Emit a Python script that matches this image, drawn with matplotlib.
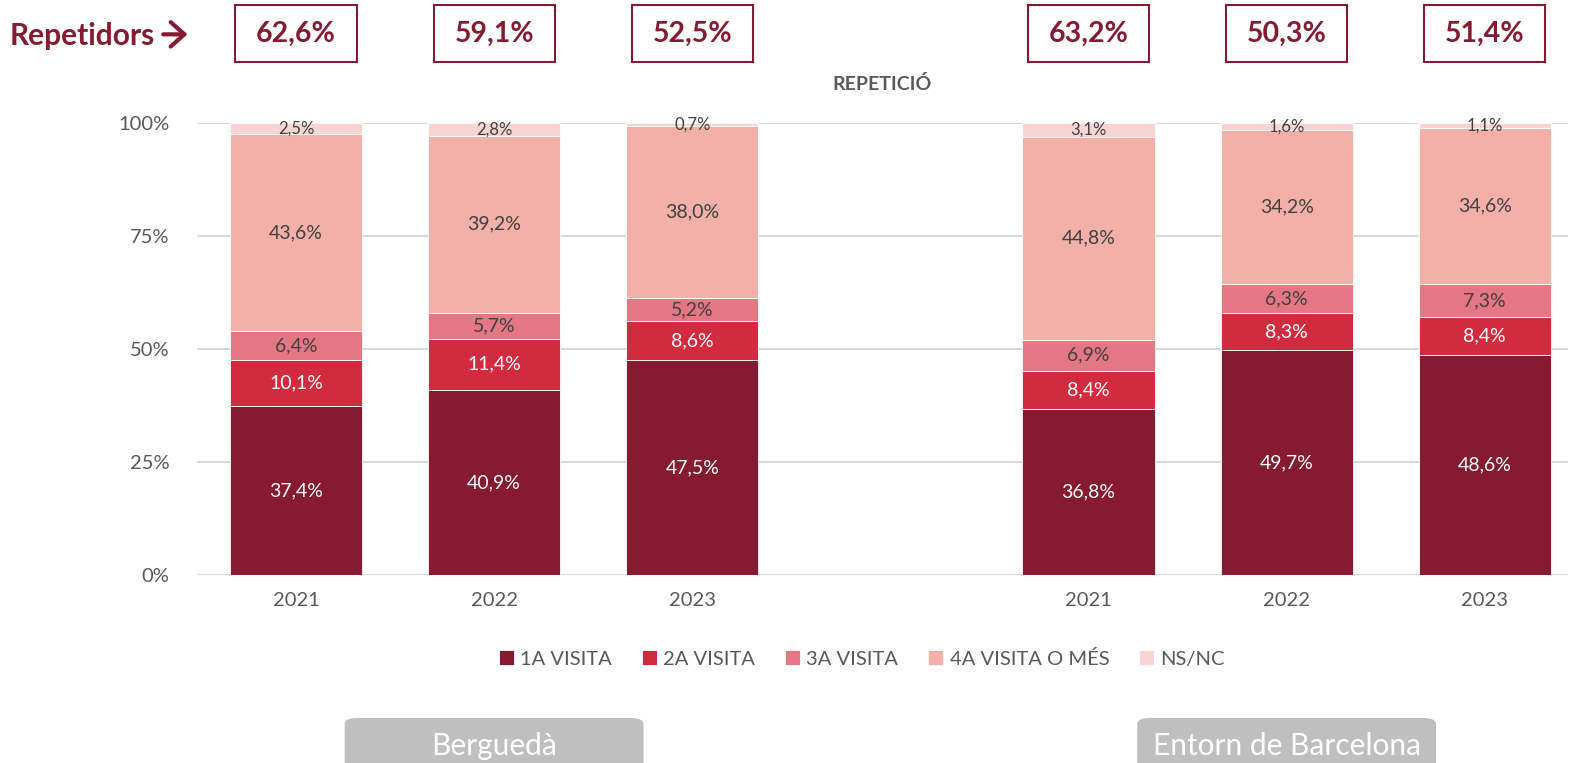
import numpy as np
import matplotlib.pyplot as plt
from matplotlib.patches import FancyBboxPatch, Rectangle, FancyArrowPatch

plt.rcParams['font.family'] = ['Lato', 'DejaVu Sans']

# bar slots: three years per territory, with an empty slot between groups
positions = [0, 1, 2, 4, 5, 6]
years = ['2021', '2022', '2023', '2021', '2022', '2023']
regions = ['Berguedà', 'Entorn de Barcelona']

series = ['1A VISITA', '2A VISITA', '3A VISITA', '4A VISITA O MÉS', 'NS/NC']
visita1 = [37.4, 40.9, 47.5, 36.8, 49.7, 48.6]
visita2 = [10.1, 11.4, 8.6, 8.4, 8.3, 8.4]
visita3 = [6.4, 5.7, 5.2, 6.9, 6.3, 7.3]
visita4 = [43.6, 39.2, 38.0, 44.8, 34.2, 34.6]
nsnc = [2.5, 2.8, 0.7, 3.1, 1.6, 1.1]
repetidors = [62.6, 59.1, 52.5, 63.2, 50.3, 51.4]

colors = ['#861a30', '#d22a3e', '#e57784', '#f2b0a8', '#f8d5d2']
label_colors = ['white', 'white', '#404040', '#404040', '#404040']
label_sizes = [14, 14, 14, 14, 12]
dark = '#861a30'

fig = plt.figure(figsize=(15.73, 7.63), dpi=100)
ax = fig.add_axes([0.1252, 0.2464, 0.8716, 0.5924])

bottom = np.zeros(len(positions))
for vals, name, c, lc, fs in zip([visita1, visita2, visita3, visita4, nsnc],
                                 series, colors, label_colors, label_sizes):
    v = np.array(vals) / 100
    ax.bar(positions, v, 0.667, bottom=bottom, color=c, label=name,
           edgecolor='white', linewidth=0.6, zorder=3)
    for x, b, h, raw in zip(positions, bottom, v, vals):
        ax.text(x, b + h / 2, f'{raw:.1f}%'.replace('.', ','), ha='center',
                va='center', color=lc, fontsize=fs, zorder=4)
    bottom += v

ax.set_xlim(-0.5, 6.42)
ax.set_ylim(0, 1)
ax.set_yticks([0, 0.25, 0.5, 0.75, 1.0])
ax.set_yticklabels(['0%', '25%', '50%', '75%', '100%'])
ax.set_xticks(positions)
ax.set_xticklabels(years)
ax.tick_params(length=0, labelsize=14.5, colors='#595959')
ax.tick_params(axis='x', pad=12)
ax.tick_params(axis='y', pad=20)
ax.grid(axis='y', color='#d9d9d9', linewidth=1.5, zorder=0)
for s in ax.spines.values():
    s.set_visible(False)

ax.set_title('REPETICIÓ', fontsize=14, fontweight='bold', color='#595959', pad=24)

ax.legend(loc='upper center', bbox_to_anchor=(0.485, -0.125), ncol=5,
          frameon=False, fontsize=14.5, handlelength=0.75, handleheight=0.75,
          handletextpad=0.3, columnspacing=1.5, labelcolor='#595959')

# repeaters share boxes above each bar
fig.text(0.006, 0.953, 'Repetidors', fontsize=21.5, fontweight='bold',
         color=dark, ha='left', va='center')
fig.patches.append(FancyArrowPatch((0.102, 0.955), (0.121, 0.955),
                                   transform=fig.transFigure,
                                   arrowstyle='->,head_length=0.45,head_width=0.4',
                                   mutation_scale=22, color=dark, linewidth=3))
for x, r in zip(positions, repetidors):
    xf = fig.transFigure.inverted().transform(ax.transData.transform((x, 0)))[0]
    fig.patches.append(Rectangle((xf - 0.0385, 0.919), 0.077, 0.074,
                                 transform=fig.transFigure, fill=False,
                                 edgecolor=dark, linewidth=1.5))
    fig.text(xf, 0.955, f'{r:.1f}%'.replace('.', ','), fontsize=20.5,
             fontweight='bold', color=dark, ha='center', va='center')

# territory tags under each group
for x, name in zip([1, 5], regions):
    xf = fig.transFigure.inverted().transform(ax.transData.transform((x, 0)))[0]
    fig.patches.append(FancyBboxPatch((xf - 0.095, -0.02), 0.19, 0.079,
                                      boxstyle='round,pad=0,rounding_size=0.008',
                                      transform=fig.transFigure,
                                      facecolor='#bfbfbf', edgecolor='none'))
    fig.text(xf, 0.022, name, fontsize=21.5, color='white', ha='center', va='center')

fig.savefig('out.png', dpi=100)
